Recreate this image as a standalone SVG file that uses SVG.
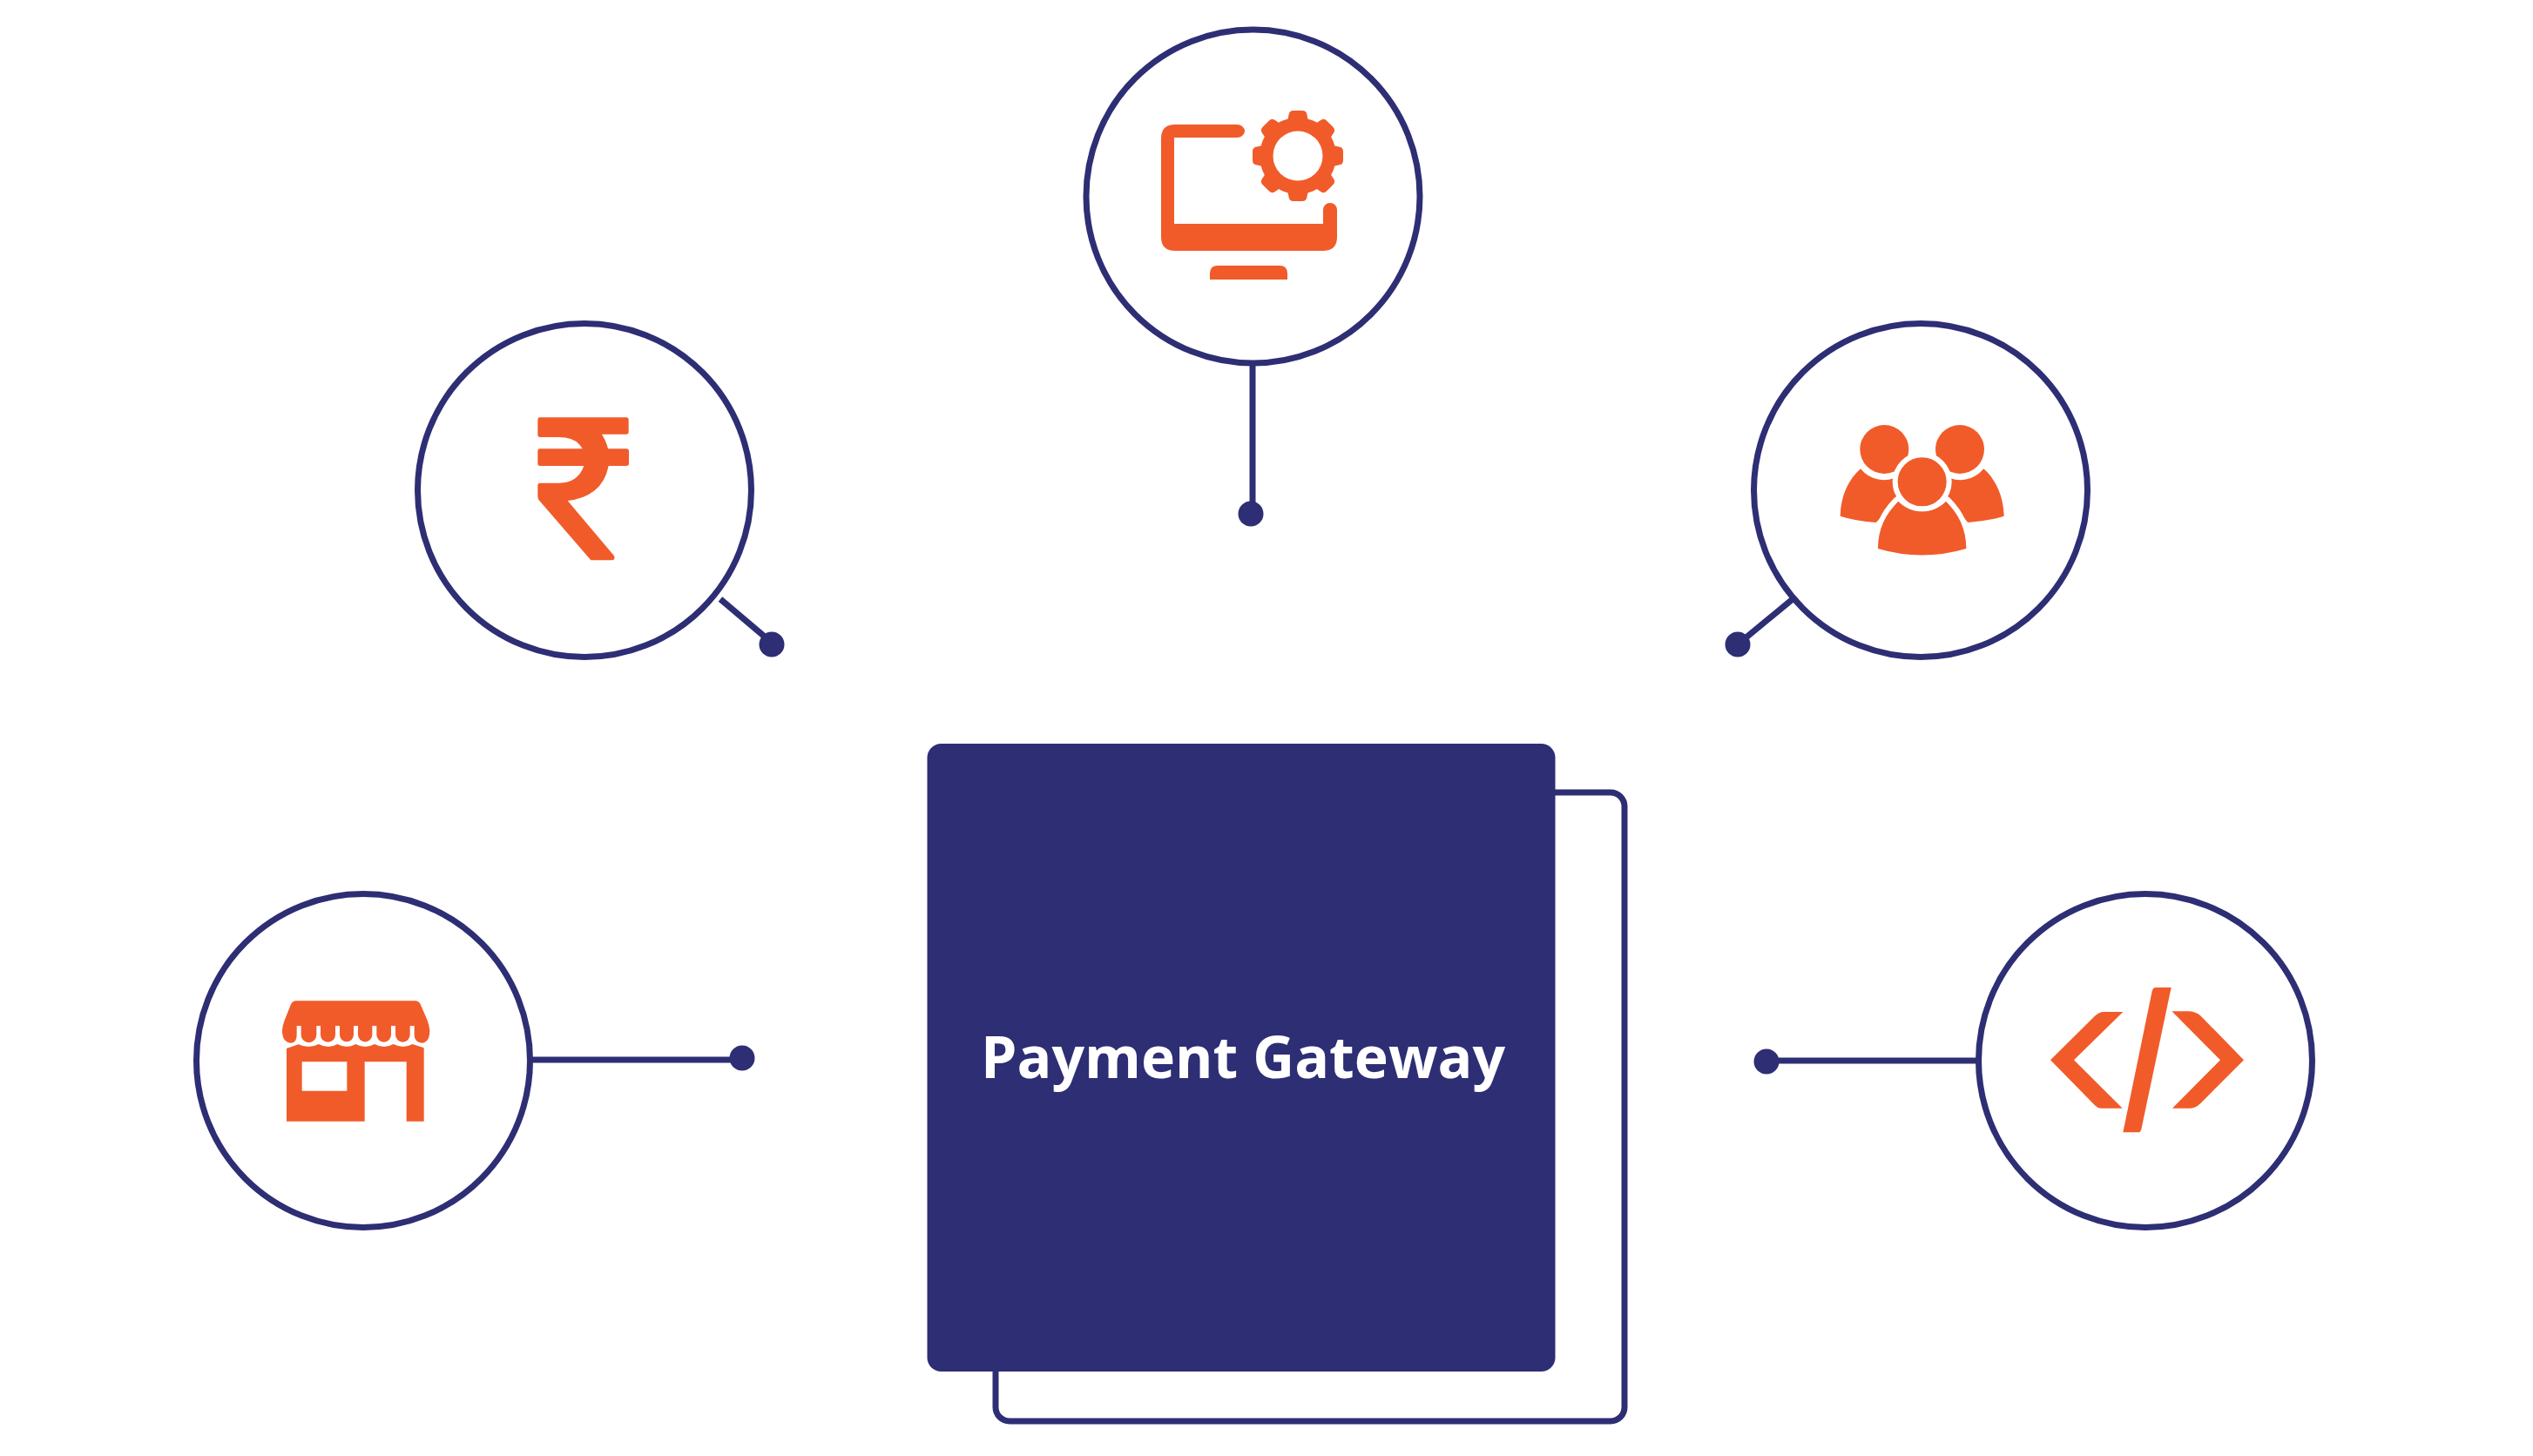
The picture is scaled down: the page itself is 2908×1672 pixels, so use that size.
<svg xmlns="http://www.w3.org/2000/svg" xmlns:xlink="http://www.w3.org/1999/xlink" width="2908" height="1672" viewBox="0 0 2908 1672">
<style>
.ring{fill:#fff;stroke:#2d2e74;stroke-width:7}
.wire{fill:none;stroke:#2d2e74;stroke-width:7}
.dot{fill:#2d2e74}
.ico{fill:#f15b2a}
.title{font-family:"Open Sans","Noto Sans",sans-serif;font-weight:700;font-size:66px;fill:#fff}
</style>
<defs>
<path id="tooth" class="ico" d="M-12 -40L-10.500 -47Q-10 -52 -5 -52H5Q10 -52 10.500 -47L12 -40Z"/>
</defs>
<rect width="2908" height="1672" fill="#fff"/>
<g id="connectors">
<path class="wire" d="M1438 417V590"/>
<circle class="dot" cx="1436" cy="590" r="14.500"/>
<path class="wire" d="M827 688L886 738"/>
<circle class="dot" cx="886" cy="740" r="14.500"/>
<path class="wire" d="M2058 688L1995 740"/>
<circle class="dot" cx="1995" cy="740" r="14.500"/>
<path class="wire" d="M609 1217H852"/>
<circle class="dot" cx="852" cy="1215" r="14.500"/>
<path class="wire" d="M2270 1218H2028"/>
<circle class="dot" cx="2028" cy="1219" r="14.500"/>
</g>
<g id="gateway">
<path class="wire" d="M1143 1575V1616A16 16 0 0 0 1159 1632H1849A16 16 0 0 0 1865 1616V926A16 16 0 0 0 1849 910H1785"/>
<rect x="1064.500" y="854" width="721" height="721" rx="16" fill="#2d2e74"/>
<text class="title" x="1126" y="1238" textLength="602" lengthAdjust="spacingAndGlyphs">Payment Gateway</text>
</g>
<g id="node-settings">
<circle class="ring" cx="1438.500" cy="225.500" r="191.500"/>
<path class="ico" d="M1420 143H1349Q1333 143 1333 159V272Q1333 288 1349 288H1519Q1535 288 1535 272V241A8 8 0 0 0 1519 241V257H1348V158H1420A9 7.500 0 0 0 1420 143Z"/>
<path class="ico" d="M1389 321V314Q1389 305 1398 305H1469Q1478 305 1478 314V321Z"/>
<g transform="translate(1490 179)">
<circle class="ico" r="44"/>
<use xlink:href="#tooth" href="#tooth"/>
<use xlink:href="#tooth" href="#tooth" transform="rotate(45)"/>
<use xlink:href="#tooth" href="#tooth" transform="rotate(90)"/>
<use xlink:href="#tooth" href="#tooth" transform="rotate(135)"/>
<use xlink:href="#tooth" href="#tooth" transform="rotate(180)"/>
<use xlink:href="#tooth" href="#tooth" transform="rotate(225)"/>
<use xlink:href="#tooth" href="#tooth" transform="rotate(270)"/>
<use xlink:href="#tooth" href="#tooth" transform="rotate(315)"/>
<circle r="28.500" fill="#fff"/>
</g>
</g>
<g id="node-rupee">
<circle class="ring" cx="671" cy="563" r="191.500"/>
<path class="ico" transform="translate(560 440) scale(.33333)" d="M180 118H477Q485 118 485 126V168Q485 176 477 176H393Q408 200 414 226H477Q486 226 486 234V277Q486 285 477 285H416Q405 340 368 370Q330 400 275 405L435 595Q440 610 428 610H355L178 405Q172 398 172 390V352Q172 344 180 344H245Q310 344 331 285H180Q172 285 172 277V234Q172 226 180 226H326Q305 186 245 186H180Q172 186 172 178V126Q172 118 180 118Z"/>
</g>
<g id="node-users">
<circle class="ring" cx="2205" cy="563" r="191.500"/>
<g transform="translate(2080 460) scale(.33333)">
<circle class="ico" cx="250" cy="168" r="84"/>
<circle class="ico" cx="510" cy="168" r="84"/>
<path class="ico" d="M98 398C100 325 128 270 168 235A104 104 0 0 0 300 260V330L222 420Q150 415 98 398Z"/>
<path class="ico" d="M662 398C660 325 632 270 592 235A104 104 0 0 1 460 260V330L538 420Q610 415 662 398Z"/>
<path class="ico" stroke="#fff" stroke-width="36" stroke-linejoin="round" paint-order="stroke" d="M228 510C228 440 255 390 298 347C320 370 350 382 380 382C410 382 440 370 462 347C505 390 532 440 532 510Q380 555 228 510Z"/>
<circle class="ico" cx="380" cy="280" r="93" stroke="#fff" stroke-width="18"/>
</g>
</g>
<g id="node-store">
<circle class="ring" cx="417" cy="1218" r="191.500"/>
<g transform="translate(300 1130) scale(.33333)">
<path class="ico" d="M72 160Q72 200 100 203Q122 205 122 175V144H137V175A26.500 26.500 0 0 0 190 175V144H204V175A25.500 25.500 0 0 0 255 175V144H270V175A24 24 0 0 0 318 175V144H333V175A24.500 24.500 0 0 0 382 175V144H397V175A25 25 0 0 0 447 175V144H462V175A25 25 0 0 0 512 175V144H527V175Q527 203 555 203Q580 200 580 160Q578 140 572 125L548 70Q542 58 530 58H120Q108 58 102 70L80 125Q72 145 72 160Z"/>
<path class="ico" fill-rule="evenodd" d="M87 222L128 208Q165 225 197 207Q232 225 262 207Q296 225 325 207Q358 225 390 207Q423 225 455 207Q490 225 520 207L560 220V473H500V268H356V473H87ZM140 268V368H295V268Z"/>
</g>
</g>
<g id="node-code">
<circle class="ring" cx="2463" cy="1218" r="191.500"/>
<g class="ico" transform="translate(2330 1120) scale(.33333)">
<path d="M72 292L225 140Q240 126 255 126H322L153 292L320 458H245Q235 458 225 448Z"/>
<path d="M435 42H488L385 530Q382 541 375 541H322L422 55Q425 42 435 42Z"/>
<path d="M490 124H550Q575 126 590 140L738 292L590 440Q572 458 555 458H492L657 292Z"/>
</g>
</g>
</svg>
